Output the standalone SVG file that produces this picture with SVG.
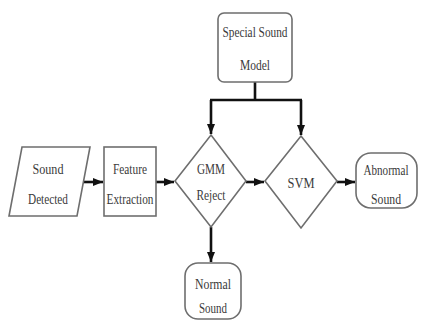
<svg xmlns="http://www.w3.org/2000/svg" width="424" height="321" viewBox="0 0 424 321">
<style>
.box{fill:#fff;stroke:#6e6e6e;stroke-width:1.6}
.t{font-size:15px;fill:#3a3a3a;text-anchor:middle}
.c{fill:none;stroke:#111;stroke-width:2.6}
</style>
<defs>
<marker id="ah" markerUnits="userSpaceOnUse" markerWidth="10" markerHeight="10" viewBox="0 0 10 10" refX="10" refY="5" orient="auto">
<path d="M0,1 L10,5 L0,9 Z" fill="#111"/>
</marker>
</defs>
<rect width="424" height="321" fill="#fff"/>
<g id="connectors">
<line class="c" x1="82" y1="182" x2="103" y2="182" marker-end="url(#ah)"/>
<line class="c" x1="156" y1="182" x2="174" y2="182" marker-end="url(#ah)"/>
<line class="c" x1="246" y1="182" x2="264" y2="182" marker-end="url(#ah)"/>
<line class="c" x1="337" y1="182" x2="355" y2="182" marker-end="url(#ah)"/>
<path class="c" d="M255,82 V100 M210,100 H302"/>
<line class="c" x1="211" y1="100" x2="211" y2="134" marker-end="url(#ah)"/>
<line class="c" x1="301" y1="100" x2="301" y2="135" marker-end="url(#ah)"/>
<line class="c" x1="211" y1="227" x2="211" y2="262" marker-end="url(#ah)"/>
</g>
<g font-family="Liberation Serif, Times New Roman, serif">
<g id="sound-detected">
<polygon class="box" points="22,147 90,147 77,216 9,216"/>
<text class="t" x="48" y="174" textLength="31" lengthAdjust="spacingAndGlyphs">Sound</text>
<text class="t" x="48" y="204" textLength="40" lengthAdjust="spacingAndGlyphs">Detected</text>
</g>
<g id="feature-extraction">
<rect class="box" x="104" y="147" width="52" height="69"/>
<text class="t" x="130" y="174" textLength="34" lengthAdjust="spacingAndGlyphs">Feature</text>
<text class="t" x="130" y="204" textLength="47" lengthAdjust="spacingAndGlyphs">Extraction</text>
</g>
<g id="gmm-reject">
<polygon class="box" points="211,135 246,181 211,227 175,181"/>
<text class="t" x="211" y="174" textLength="28" lengthAdjust="spacingAndGlyphs">GMM</text>
<text class="t" x="211" y="200" textLength="29" lengthAdjust="spacingAndGlyphs">Reject</text>
</g>
<g id="svm">
<polygon class="box" points="301,136 337,181 301,228 265,181"/>
<text class="t" x="301" y="188" textLength="27" lengthAdjust="spacingAndGlyphs">SVM</text>
</g>
<g id="special-sound-model">
<rect class="box" x="218" y="13" width="74" height="69" rx="6"/>
<text class="t" x="255" y="37" textLength="65" lengthAdjust="spacingAndGlyphs">Special Sound</text>
<text class="t" x="255" y="70" textLength="30" lengthAdjust="spacingAndGlyphs">Model</text>
</g>
<g id="abnormal-sound">
<rect class="box" x="356" y="153" width="61" height="55" rx="15"/>
<text class="t" x="386" y="175" textLength="45" lengthAdjust="spacingAndGlyphs">Abnormal</text>
<text class="t" x="386" y="204" textLength="30" lengthAdjust="spacingAndGlyphs">Sound</text>
</g>
<g id="normal-sound">
<rect class="box" x="185" y="263" width="56" height="56" rx="13"/>
<text class="t" x="213" y="289" textLength="36" lengthAdjust="spacingAndGlyphs">Normal</text>
<text class="t" x="213" y="313" textLength="28" lengthAdjust="spacingAndGlyphs">Sound</text>
</g>
</g>
</svg>
